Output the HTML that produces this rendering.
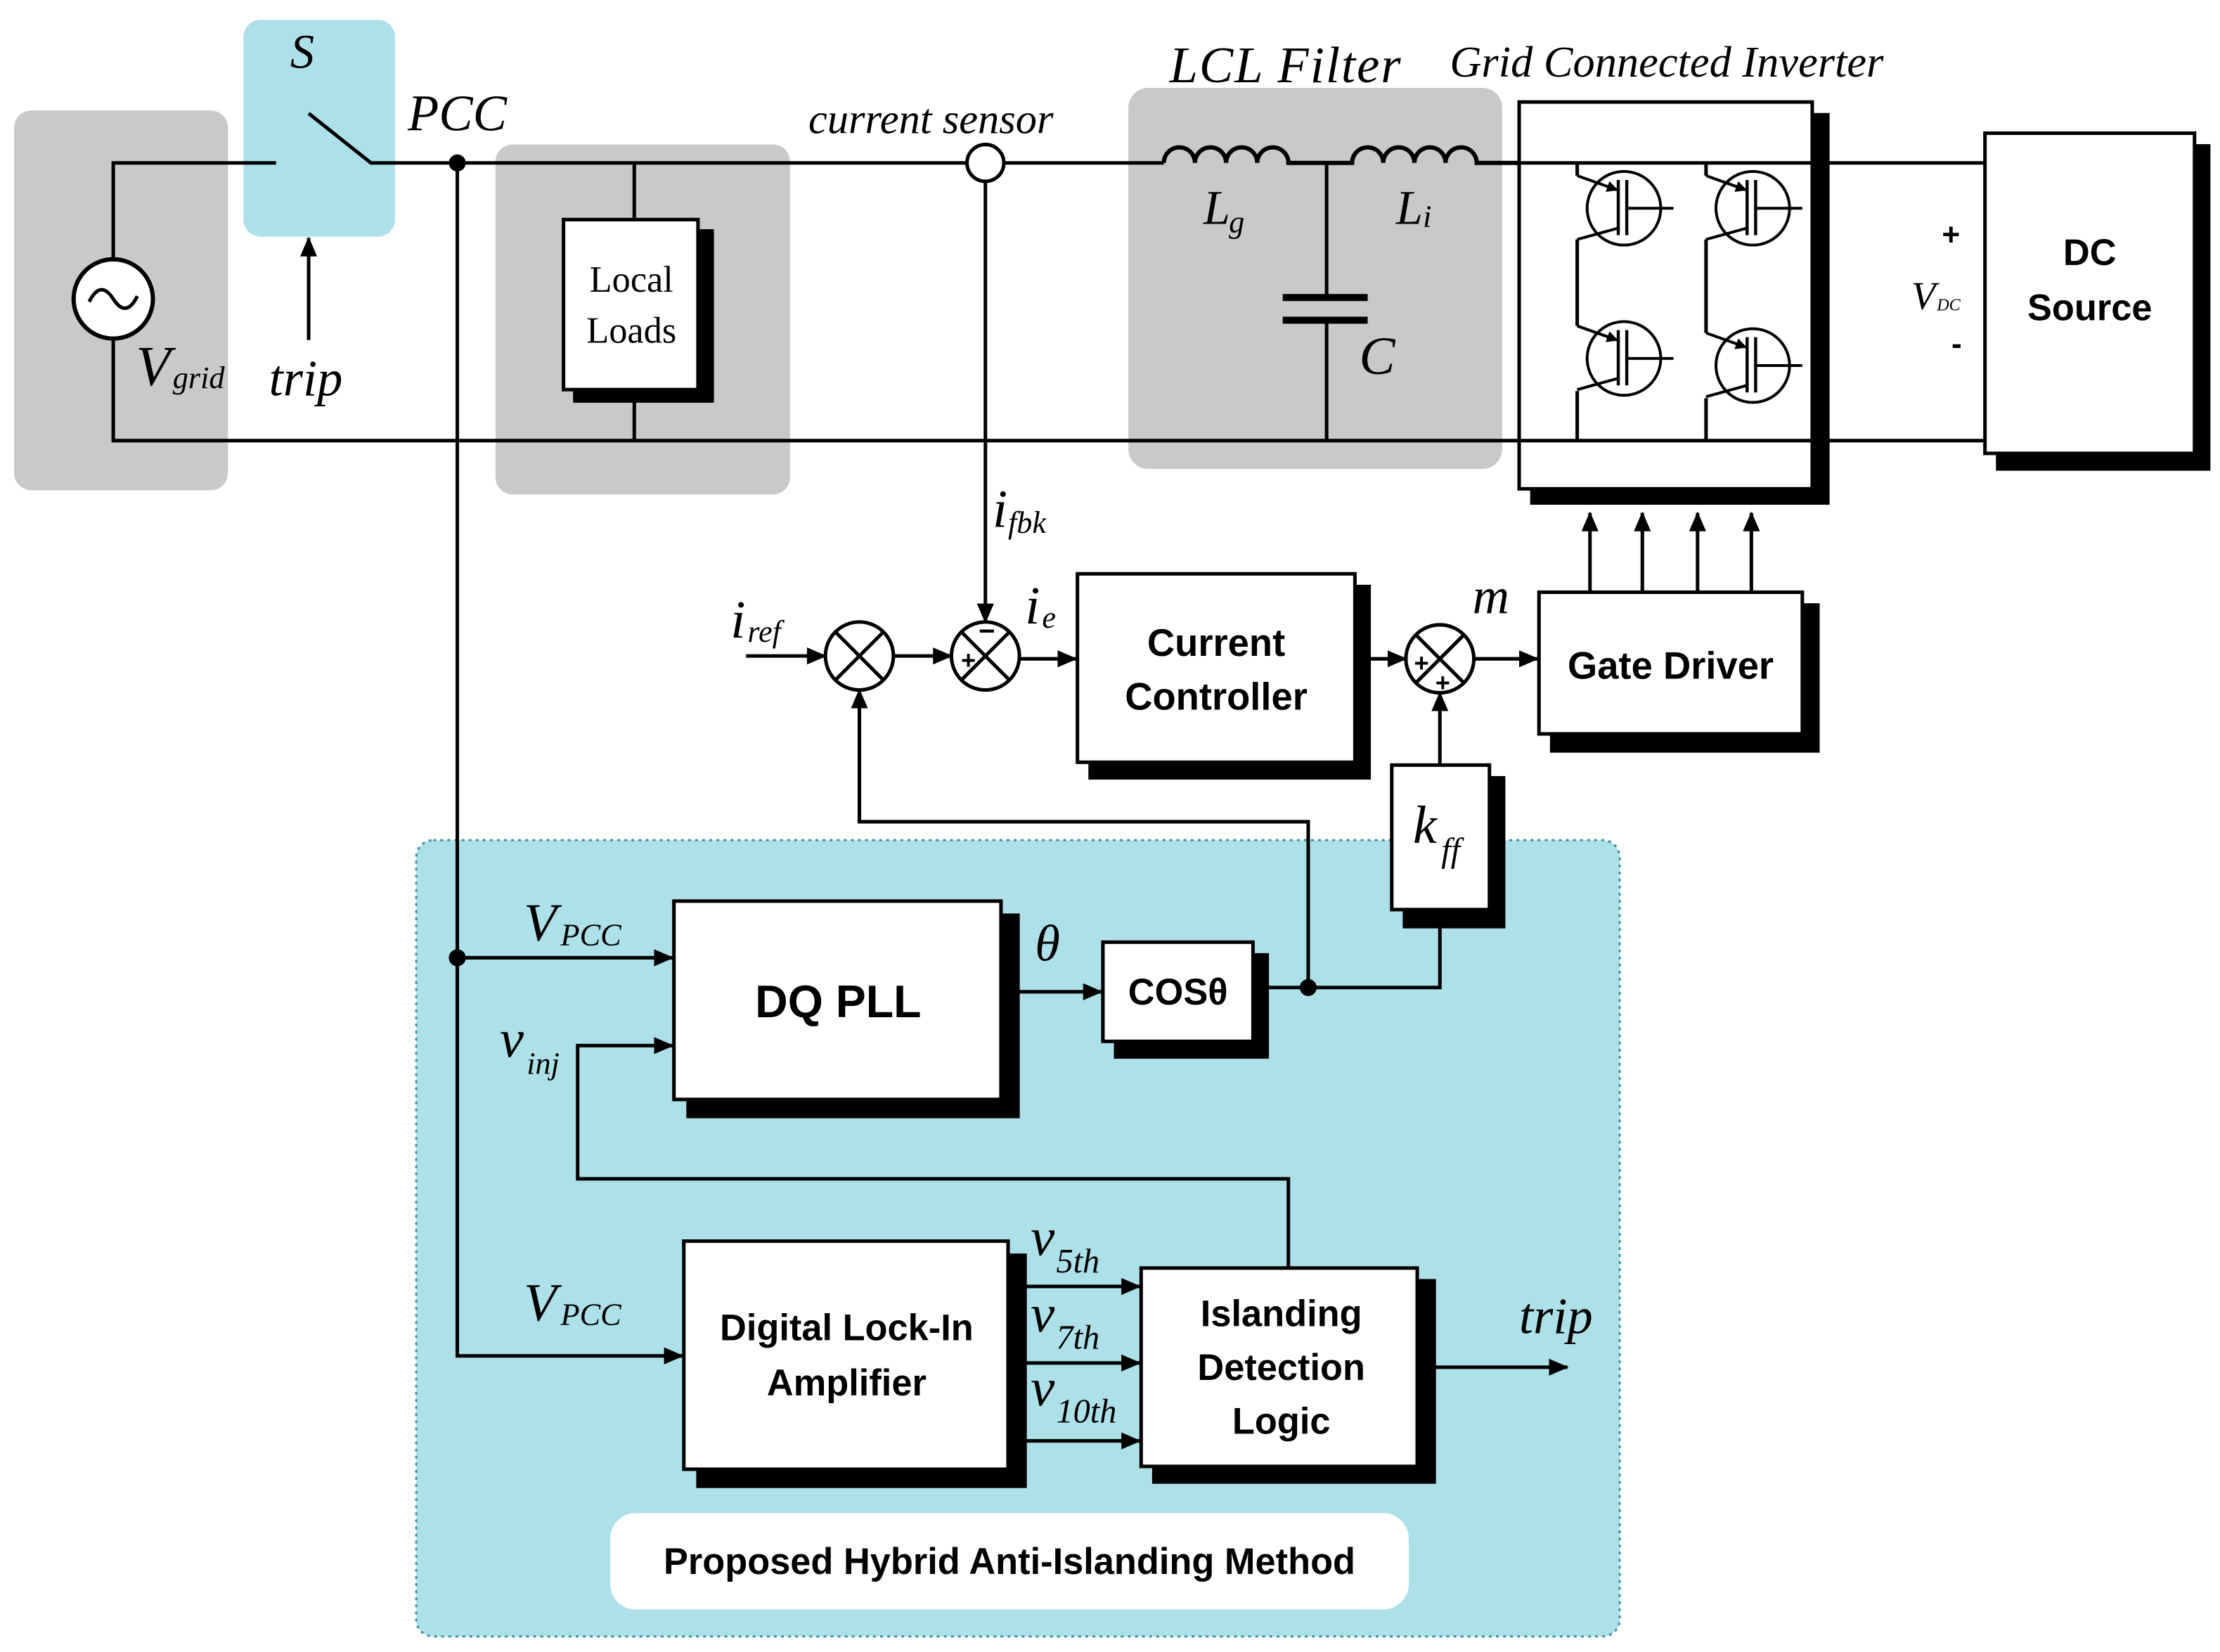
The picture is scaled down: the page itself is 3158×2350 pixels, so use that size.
<!DOCTYPE html>
<html><head><meta charset="utf-8"><style>
html,body{margin:0;padding:0;background:#fff;}
svg{display:block;}
.it{font-family:"Liberation Serif",serif;font-style:italic;}
.b{font-family:"Liberation Sans",sans-serif;font-weight:bold;}
</style></head><body>
<svg width="3158" height="2350" viewBox="0 0 1568 1166" preserveAspectRatio="none" xmlns="http://www.w3.org/2000/svg">
<defs>
<marker id="a" markerWidth="14" markerHeight="12" refX="13" refY="6" orient="auto" markerUnits="userSpaceOnUse"><path d="M0,0 L14,6 L0,12 z" fill="#000"/></marker>
<marker id="s" markerWidth="8" markerHeight="8" refX="7" refY="4" orient="auto" markerUnits="userSpaceOnUse"><path d="M0,0 L8,4 L0,8 z" fill="#000"/></marker>
<g id="igbt" stroke="#000" stroke-width="2" fill="none">
<circle cx="0" cy="0" r="26" fill="#fff"/>
<path d="M-33,-23 L-5,-13" marker-end="url(#s)"/>
<path d="M-4,-20 V19 M2,-20 V19" stroke-width="2.2"/>
<path d="M3,0 H35"/>
<path d="M-4,14 L-33,22"/>
</g>
</defs>
<rect width="1568" height="1166" fill="#fff"/>
<rect x="10" y="78" width="151" height="268" rx="12" fill="#c9c9c9"/>
<rect x="172" y="14" width="107" height="153" rx="12" fill="#aee0ea"/>
<rect x="350" y="102" width="208" height="247" rx="12" fill="#c9c9c9"/>
<rect x="797" y="62" width="264" height="269" rx="14" fill="#c9c9c9"/>
<rect x="294" y="593" width="850" height="562" rx="12" fill="#aee0ea" stroke="#3a8fa5" stroke-width="1.5" stroke-dasharray="2,3"/>
<rect x="431" y="1068" width="564" height="68" rx="18" fill="#fff"/>
<text x="713" y="1111" class="b" font-size="26" text-anchor="middle">Proposed Hybrid Anti-Islanding Method</text>

<g stroke="#000" stroke-width="2.5" fill="none">
<path d="M80,183 V115 H195"/>
<path d="M80,239 V311 H1402"/>
<circle cx="80" cy="211" r="28" fill="#fff" stroke-width="3"/>
<path d="M63,213 q8,-16 17,-2 q9,14 17,-2" stroke-width="2.5"/>
<path d="M218,80 L262,115 H822"/>
<path d="M218,240 V168" marker-end="url(#a)"/>
<path d="M448,115 V155 M448,275 V311"/>
<circle cx="696" cy="115" r="13" fill="#fff"/>
<path d="M696,128 V439" marker-end="url(#a)"/>
<path d="M822,115 a11,11 0 0 1 22,0 a11,11 0 0 1 22,0 a11,11 0 0 1 22,0 a11,11 0 0 1 22,0 H955 a11,11 0 0 1 22,0 a11,11 0 0 1 22,0 a11,11 0 0 1 22,0 a11,11 0 0 1 22,0 H1073" stroke-width="3"/>
<path d="M937,115 V210 M937,226 V311"/>
<path d="M906,210 H966 M906,226 H966" stroke-width="5"/>
<path d="M1280,115 H1402"/>
<path d="M527,463 H583" marker-end="url(#a)"/>
<path d="M631,463 H672" marker-end="url(#a)"/>
<path d="M720,465 H760" marker-end="url(#a)"/>
<path d="M957,465 H993" marker-end="url(#a)"/>
<path d="M1041,465 H1086" marker-end="url(#a)"/>
<path d="M1017,540 V489" marker-end="url(#a)"/>
<path d="M924,697 V580 H607 V487" marker-end="url(#a)"/>
<path d="M885,697 H1017 V642"/>
<path d="M707,700 H778" marker-end="url(#a)"/>
<path d="M323,115 V957 H482" marker-end="url(#a)"/>
<path d="M323,676 H475" marker-end="url(#a)"/>
<path d="M910,895 V832 H408 V738 H475" marker-end="url(#a)"/>
<path d="M712,908 H805" marker-end="url(#a)"/>
<path d="M712,962 H805" marker-end="url(#a)"/>
<path d="M712,1017 H805" marker-end="url(#a)"/>
<path d="M1001,965 H1107" marker-end="url(#a)"/>
</g>
<circle cx="323" cy="115" r="6" fill="#000"/>
<circle cx="323" cy="676" r="6" fill="#000"/>
<circle cx="924" cy="697" r="6" fill="#000"/>

<g stroke="#000" stroke-width="2.5" fill="#fff">
<circle cx="607" cy="463" r="24"/><path d="M590,446 L624,480 M624,446 L590,480"/>
<circle cx="696" cy="463" r="24"/><path d="M679,446 L713,480 M713,446 L679,480"/>
<circle cx="1017" cy="465" r="24"/><path d="M1000,448 L1034,482 M1034,448 L1000,482"/>
</g>
<text x="684" y="472" font-size="18" class="b" text-anchor="middle">+</text>
<text x="697" y="452" font-size="20" class="b" text-anchor="middle">−</text>
<text x="1004" y="474" font-size="18" class="b" text-anchor="middle">+</text>
<text x="1019" y="488" font-size="18" class="b" text-anchor="middle">+</text>

<g stroke="#000" stroke-width="2.5">
<rect x="406" y="163" width="97" height="120" fill="#000"/><rect x="398" y="155" width="95" height="120" fill="#fff"/>
<rect x="1082" y="81" width="209" height="274" fill="#000"/><rect x="1073" y="72" width="207" height="273" fill="#fff"/>
<rect x="1411" y="103" width="149" height="228" fill="#000"/><rect x="1402" y="94" width="148" height="226" fill="#fff"/>
<rect x="770" y="414" width="197" height="135" fill="#000"/><rect x="761" y="405" width="196" height="133" fill="#fff"/>
<rect x="1096" y="427" width="188" height="103" fill="#000"/><rect x="1087" y="418" width="186" height="100" fill="#fff"/>
<rect x="992" y="549" width="70" height="105" fill="#000"/><rect x="983" y="540" width="69" height="102" fill="#fff"/>
<rect x="486" y="646" width="233" height="142" fill="#000"/><rect x="476" y="636" width="231" height="140" fill="#fff"/>
<rect x="788" y="674" width="107" height="72" fill="#000"/><rect x="779" y="665" width="106" height="70" fill="#fff"/>
<rect x="493" y="886" width="231" height="163" fill="#000"/><rect x="483" y="876" width="229" height="161" fill="#fff"/>
<rect x="815" y="904" width="198" height="142" fill="#000"/><rect x="806" y="895" width="195" height="140" fill="#fff"/>
</g>

<g stroke="#000" stroke-width="2.5" fill="none">
<path d="M1073,115 H1280 M1073,311 H1280"/>
<path d="M1114,115 V124 M1114,169 V230 M1114,276 V311"/>
<path d="M1205,115 V124 M1205,169 V235 M1205,281 V311"/>
<path d="M1123,418 V362" marker-end="url(#a)"/>
<path d="M1160,418 V362" marker-end="url(#a)"/>
<path d="M1199,418 V362" marker-end="url(#a)"/>
<path d="M1237,418 V362" marker-end="url(#a)"/>
</g>
<use href="#igbt" x="1147" y="147"/>
<use href="#igbt" x="1238" y="147"/>
<use href="#igbt" x="1147" y="253"/>
<use href="#igbt" x="1238" y="258"/>

<g class="it" fill="#000">
<text x="205" y="48" font-size="34">S</text>
<text x="288" y="92" font-size="36">PCC</text>
<text x="96" y="272" font-size="40">V</text><text x="122" y="274" font-size="22">grid</text>
<text x="190" y="279" font-size="36">trip</text>
<text x="571" y="94" font-size="30">current sensor</text>
<text x="826" y="58" font-size="36" letter-spacing="1">LCL Filter</text>
<text x="1024" y="54" font-size="31">Grid Connected Inverter</text>
<text x="850" y="158" font-size="34">L</text><text x="868" y="164" font-size="22">g</text>
<text x="986" y="158" font-size="34">L</text><text x="1005" y="160" font-size="22">i</text>
<text x="960" y="264" font-size="38">C</text>
<text x="1350" y="218" font-size="28">V</text><text x="1368" y="219" font-size="12">DC</text>
<text x="701" y="372" font-size="38">i</text><text x="712" y="376" font-size="22">fbk</text>
<text x="516" y="450" font-size="38">i</text><text x="528" y="453" font-size="22">ref</text>
<text x="724" y="440" font-size="38">i</text><text x="736" y="443" font-size="22">e</text>
<text x="1040" y="433" font-size="36">m</text>
<text x="998" y="595" font-size="38">k</text><text x="1018" y="608" font-size="24">ff</text>
<text x="370" y="664" font-size="38">V</text><text x="396" y="667" font-size="22">PCC</text>
<text x="731" y="678" font-size="36">θ</text>
<text x="353" y="746" font-size="38">v</text><text x="372" y="758" font-size="22">inj</text>
<text x="370" y="932" font-size="38">V</text><text x="396" y="935" font-size="22">PCC</text>
<text x="728" y="886" font-size="38">v</text><text x="746" y="898" font-size="24">5th</text>
<text x="728" y="940" font-size="38">v</text><text x="746" y="952" font-size="24">7th</text>
<text x="728" y="992" font-size="38">v</text><text x="746" y="1004" font-size="24">10th</text>
<text x="1073" y="941" font-size="36">trip</text>
</g>
<g font-family="Liberation Serif,serif" font-size="26" text-anchor="middle">
<text x="446" y="206">Local</text><text x="446" y="242">Loads</text>
</g>
<g class="b" text-anchor="middle">
<text x="1378" y="173" font-size="22">+</text>
<text x="1382" y="250" font-size="22">-</text>
<text x="1476" y="187" font-size="26">DC</text><text x="1476" y="226" font-size="26">Source</text>
<text x="859" y="463" font-size="27">Current</text><text x="859" y="501" font-size="27">Controller</text>
<text x="1180" y="479" font-size="27">Gate Driver</text>
<text x="592" y="718" font-size="32">DQ PLL</text>
<text x="832" y="709" font-size="26">COSθ</text>
<text x="598" y="946" font-size="26">Digital Lock-In</text><text x="598" y="985" font-size="26">Amplifier</text>
<text x="905" y="936" font-size="26">Islanding</text><text x="905" y="974" font-size="26">Detection</text><text x="905" y="1012" font-size="26">Logic</text>
</g>
</svg>
</body></html>
